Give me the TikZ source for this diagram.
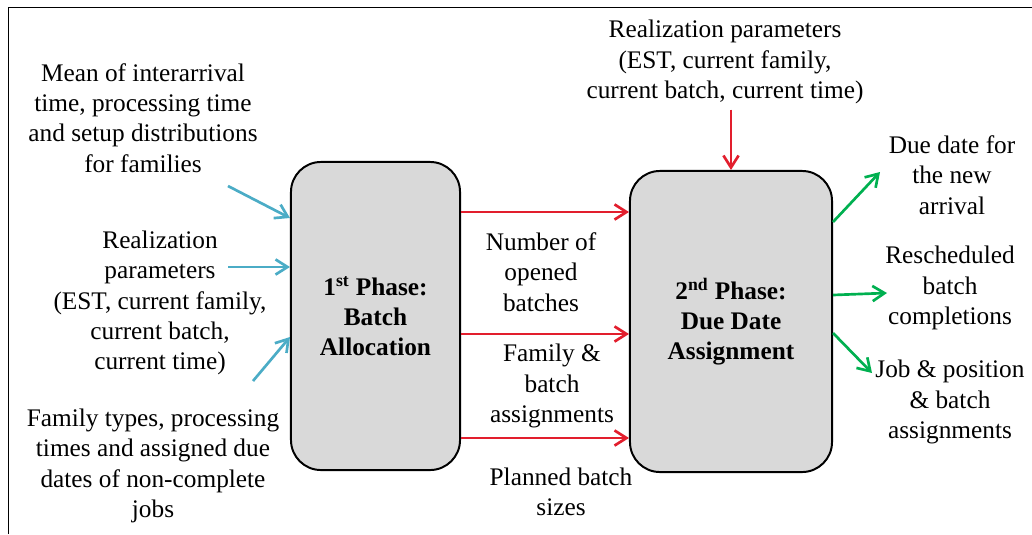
\documentclass[tikz,border=0pt]{standalone}
\usepackage{fontspec}
\setmainfont{Liberation Serif}
\usepackage{xcolor}
\usetikzlibrary{arrows.meta,calc}
\definecolor{inblue}{RGB}{75,172,198}
\definecolor{midred}{RGB}{226,30,45}
\definecolor{outgreen}{RGB}{0,176,80}
\definecolor{boxgray}{RGB}{217,217,217}

\begin{document}
\begin{tikzpicture}[
  x=0.025cm, y=-0.025cm,
  font=\fontsize{18}{21.5}\selectfont,
  phase/.style={draw, line width=1.4pt, fill=boxgray, rounded corners=0.75cm, align=center, font=\fontsize{18}{21.5}\selectfont\bfseries},
  lbl/.style={align=center, inner sep=0pt},
  arr/.style={-{Straight Barb[length=3mm,width=3.8mm]}, line width=1.9pt},
  bluearr/.style={arr, inblue},
  redarr/.style={arr, midred},
  greenarr/.style={arr, outgreen},
]
\useasboundingbox (0,0) rectangle (1032,534);
\draw[line width=0.6pt] (8,534) -- (8,7) -- (1032,7);
% phases
\node[phase, minimum width=4.225cm, minimum height=7.7cm] (alloc) at (375.5,316) {1\textsuperscript{st} Phase:\\Batch\\Allocation};
\node[phase, minimum width=5.05cm, minimum height=7.525cm] (assign) at (731,321.5) {2\textsuperscript{nd} Phase:\\Due Date\\Assignment};
% inputs
\node[lbl] (meanlbl) at (143,118) {Mean of interarrival\\time, processing time\\and setup distributions\\for families};
\node[lbl] (reallbl) at (160,303) {Realization\\parameters\\(EST, current family,\\current batch,\\current time)};
\node[lbl] (famlbl) at (153,466) {Family types, processing\\times and assigned due\\dates of non-complete\\jobs};
\node[lbl] (toplbl) at (725,62) {Realization parameters\\(EST, current family,\\current batch, current time)};
% intermediate results
\node[lbl] (numlbl) at (541,272) {Number of\\opened\\batches};
\node[lbl] (asgnlbl) at (552,386) {Family \&\\batch\\assignments};
\node[lbl] (sizelbl) at (561,492) {Planned batch\\sizes};
% outputs
\node[lbl] (duelbl) at (952,175) {Due date for\\the new\\arrival};
\node[lbl] (reschlbl) at (950,288) {Rescheduled\\batch\\completions};
\node[lbl] (joblbl) at (950,402) {Job \& position\\\& batch\\assignments};
\coordinate (b1) at (228,186);
\coordinate (b2) at (228,267);
\coordinate (b3) at (253,381);
\coordinate (r1) at ($(alloc.east)+(0,-104)$);
\coordinate (r2) at ($(alloc.east)+(0,18)$);
\coordinate (r3) at ($(alloc.east)+(0,122)$);
\coordinate (g1) at (880,172);
\coordinate (g2) at (887,293);
\coordinate (g3) at (872,373);
\draw[bluearr] (b1) -- ($(alloc.west)+(0,-98)$);
\draw[bluearr] (b2) -- ($(alloc.west)+(0,-49)$);
\draw[bluearr] (b3) -- ($(alloc.west)+(0,21)$);
\draw[redarr] (r1) -- (r1 -| assign.west);
\draw[redarr] (r2) -- (r2 -| assign.west);
\draw[redarr] (r3) -- (r3 -| assign.west);
\draw[redarr] ([yshift=-4pt]assign.north |- toplbl.south) -- (assign.north);
\draw[greenarr] ($(assign.east)+(0,-99.5)$) -- (g1);
\draw[greenarr] ($(assign.east)+(0,-26.5)$) -- (g2);
\draw[greenarr] ($(assign.east)+(0,11.5)$) -- (g3);
\end{tikzpicture}
\end{document}
